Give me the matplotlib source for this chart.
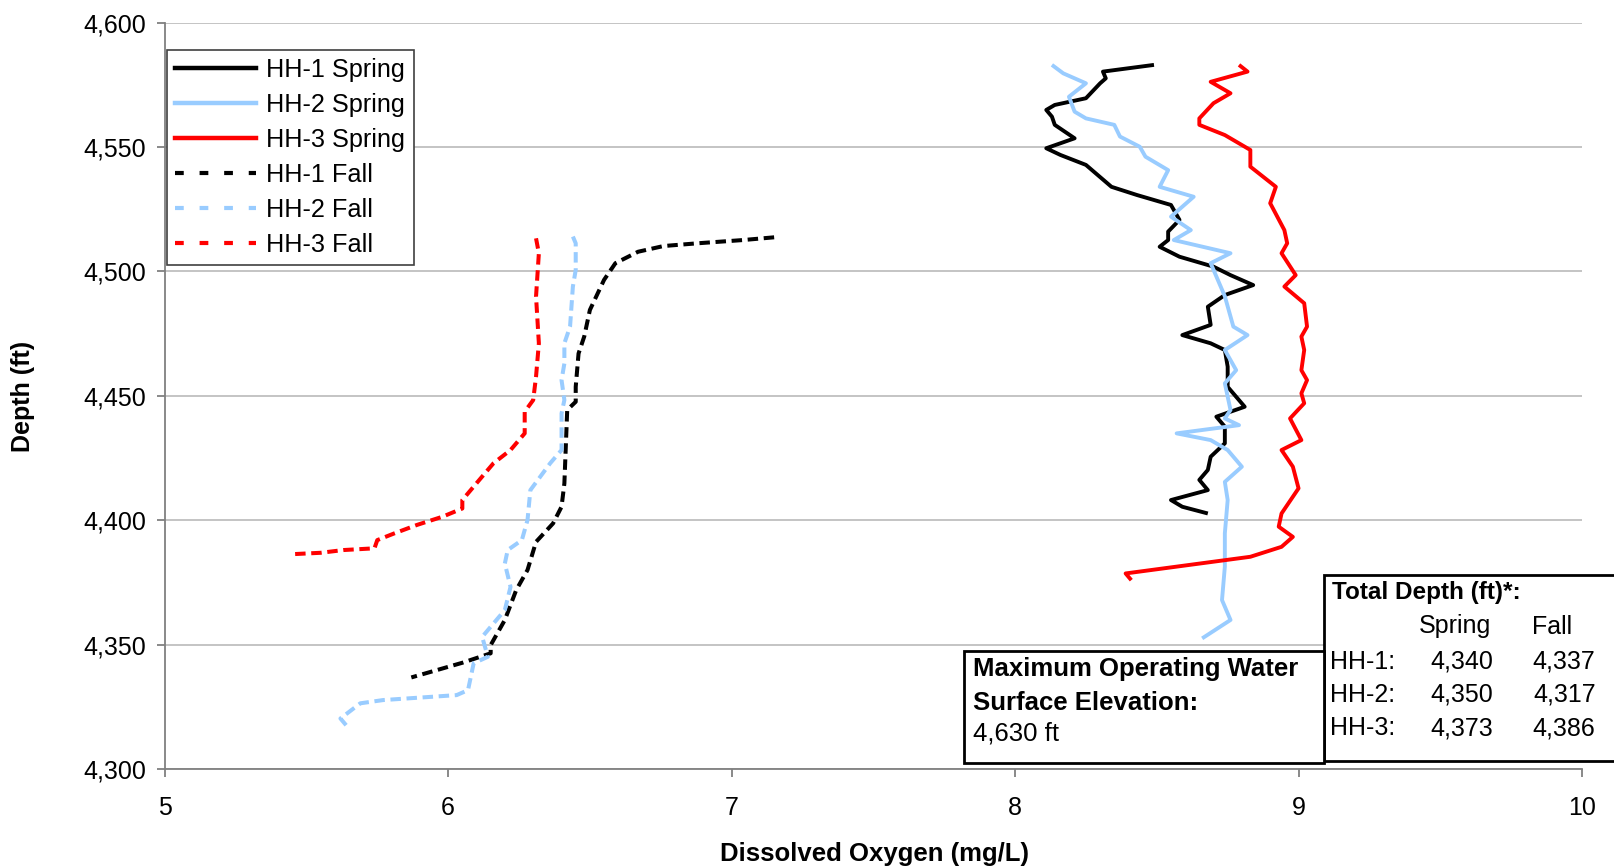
import matplotlib
matplotlib.use("Agg")
import matplotlib.pyplot as plt
from matplotlib.lines import Line2D
from matplotlib.patches import Rectangle

plt.rcParams['font.family'] = ['Liberation Sans', 'DejaVu Sans']

# ---- data ----
hh1_spring_do = [8.49, 8.31, 8.32, 8.30, 8.25, 8.14, 8.11, 8.13, 8.14, 8.21, 8.11, 8.16, 8.25, 8.34, 8.43,
                 8.55, 8.58, 8.54, 8.54, 8.51, 8.58, 8.70, 8.76, 8.84, 8.74, 8.68, 8.69, 8.59, 8.69, 8.74,
                 8.75, 8.75, 8.81, 8.71, 8.74, 8.74, 8.69, 8.68, 8.65, 8.68, 8.55, 8.59, 8.68]
hh1_spring_depth = [4583.0, 4580.3, 4577.6, 4575.6, 4569.6, 4566.9, 4564.9, 4562.2, 4558.9, 4553.5,
                    4549.5, 4546.8, 4542.8, 4534.0, 4530.7, 4526.7, 4520.7, 4516.0, 4512.6, 4509.9,
                    4505.9, 4501.9, 4498.5, 4494.5, 4490.5, 4485.8, 4478.5, 4474.4, 4471.1, 4468.4,
                    4461.7, 4453.6, 4445.6, 4441.6, 4437.6, 4430.9, 4425.5, 4420.2, 4416.2, 4412.1,
                    4408.1, 4405.4, 4402.7]

hh2_spring_do = [8.13, 8.17, 8.25, 8.19, 8.21, 8.25, 8.35, 8.37, 8.44, 8.46, 8.54, 8.51, 8.63, 8.55, 8.62,
                 8.56, 8.76, 8.69, 8.74, 8.77, 8.82, 8.74, 8.78, 8.74, 8.76, 8.74, 8.79, 8.57, 8.69, 8.75,
                 8.80, 8.74, 8.75, 8.74, 8.74, 8.73, 8.76, 8.66]
hh2_spring_depth = [4583.0, 4579.6, 4575.6, 4570.2, 4564.2, 4561.5, 4558.9, 4554.2, 4550.1, 4546.1,
                    4540.7, 4534.0, 4530.0, 4522.0, 4516.6, 4512.6, 4507.3, 4503.3, 4490.0, 4477.8,
                    4474.4, 4468.4, 4460.3, 4455.0, 4444.3, 4440.9, 4438.2, 4434.9, 4432.2, 4428.2,
                    4421.5, 4415.4, 4408.1, 4394.7, 4381.3, 4367.9, 4359.9, 4352.5]

hh3_spring_do = [8.79, 8.82, 8.69, 8.76, 8.70, 8.65, 8.65, 8.74, 8.83, 8.83, 8.92, 8.90, 8.95, 8.96, 8.94,
                 8.99, 8.95, 9.02, 9.03, 9.01, 9.02, 9.01, 9.03, 9.01, 9.02, 8.97, 9.01, 8.94, 8.98, 9.00,
                 8.94, 8.93, 8.98, 8.94, 8.83, 8.39, 8.41]
hh3_spring_depth = [4583.0, 4580.3, 4576.2, 4571.6, 4567.6, 4561.5, 4558.9, 4554.8, 4548.8, 4542.1,
                    4534.0, 4527.4, 4516.6, 4511.3, 4507.3, 4498.5, 4493.9, 4487.2, 4477.8, 4473.8,
                    4468.4, 4460.3, 4456.3, 4451.0, 4447.0, 4440.9, 4432.2, 4428.2, 4421.5, 4412.8,
                    4402.7, 4397.4, 4393.3, 4389.3, 4385.3, 4378.6, 4375.9]

hh1_fall_do = [7.15, 7.04, 6.88, 6.76, 6.67, 6.59, 6.55, 6.50, 6.48, 6.46, 6.45, 6.45, 6.42, 6.41, 6.40,
               6.37, 6.31, 6.28, 6.24, 6.20, 6.15, 6.15, 6.05, 5.87]
hh1_fall_depth = [4513.7, 4512.6, 4511.3, 4510.2, 4507.9, 4503.3, 4496.6, 4484.5, 4473.8, 4467.0,
                  4453.6, 4447.6, 4444.3, 4414.8, 4405.4, 4398.7, 4391.3, 4380.0, 4371.9, 4359.9,
                  4349.8, 4346.5, 4342.7, 4336.8]

hh2_fall_do = [6.44, 6.45, 6.45, 6.44, 6.43, 6.41, 6.41, 6.40, 6.41, 6.40, 6.40, 6.36, 6.29, 6.28, 6.26,
               6.21, 6.20, 6.22, 6.20, 6.12, 6.14, 6.09, 6.07, 6.03, 5.77, 5.69, 5.62, 5.64]
hh2_fall_depth = [4514.0, 4511.3, 4500.6, 4493.9, 4477.8, 4471.1, 4463.0, 4456.3, 4448.3, 4442.9,
                  4428.2, 4422.9, 4412.1, 4400.1, 4392.0, 4388.0, 4382.6, 4373.2, 4363.9, 4353.1,
                  4345.1, 4342.5, 4331.7, 4329.7, 4327.7, 4326.4, 4320.3, 4317.6]

hh3_fall_do = [6.31, 6.32, 6.31, 6.32, 6.31, 6.30, 6.27, 6.27, 6.22, 6.16, 6.11, 6.05, 6.05, 5.98, 5.89,
               5.81, 5.75, 5.74, 5.63, 5.55, 5.46]
hh3_fall_depth = [4513.3, 4507.3, 4489.9, 4471.1, 4457.7, 4448.3, 4443.6, 4434.9, 4428.2, 4422.9,
                  4416.2, 4408.1, 4404.7, 4401.4, 4398.1, 4394.7, 4392.0, 4388.7, 4388.0, 4386.9,
                  4386.4]

series_labels = ['HH-1 Spring', 'HH-2 Spring', 'HH-3 Spring', 'HH-1 Fall', 'HH-2 Fall', 'HH-3 Fall']
x_ticks = [5, 6, 7, 8, 9, 10]
y_ticks = [4300, 4350, 4400, 4450, 4500, 4550, 4600]

td_wells = ['HH-1:', 'HH-2:', 'HH-3:']
td_spring = ['4,340', '4,350', '4,373']
td_fall = ['4,337', '4,317', '4,386']

BLACK = '#000000'
BLUE = '#99CCFF'
RED = '#FF0000'

W, H = 1614, 867
fig = plt.figure(figsize=(W / 100, H / 100), dpi=100)
L, R, T, B = 164.7, 1582, 22.6, 769
ax = fig.add_axes([L / W, 1 - B / H, (R - L) / W, (B - T) / H])

spring = [(hh1_spring_do, hh1_spring_depth, BLACK),
          (hh2_spring_do, hh2_spring_depth, BLUE),
          (hh3_spring_do, hh3_spring_depth, RED)]
fall = [(hh1_fall_do, hh1_fall_depth, BLACK),
        (hh2_fall_do, hh2_fall_depth, BLUE),
        (hh3_fall_do, hh3_fall_depth, RED)]

for xs, ys, c in spring:
    ax.plot(xs, ys, color=c, lw=2.8, solid_joinstyle='round', solid_capstyle='butt', zorder=3)
for xs, ys, c in fall:
    ax.plot(xs, ys, color=c, lw=2.9, dashes=(2.6, 1.4), dash_capstyle='butt', zorder=3)

ax.set_xlim(5, 10)
ax.set_ylim(4300, 4600)
ax.set_xticks(x_ticks)
ax.set_yticks(y_ticks)
ax.set_yticklabels([f'{v:,}' for v in y_ticks])
ax.yaxis.grid(True, color='#BFBFBF', lw=1.3)
ax.set_axisbelow(True)
for s in ['top', 'right']:
    ax.spines[s].set_visible(False)
for s in ['left', 'bottom']:
    ax.spines[s].set_color('#808080')
    ax.spines[s].set_linewidth(1.3)
ax.tick_params(axis='both', direction='out', length=6, width=1.3, color='#808080',
               labelsize=18, labelcolor='black')
ax.tick_params(axis='x', pad=13.5)
ax.tick_params(axis='y', pad=7.5)


def fx(px):
    return px / W


def fy(py):
    return 1 - py / H


# axis titles placed where the reference has them
fig.text(fx(23), fy(396.5), 'Depth (ft)', fontsize=18, fontweight='bold', rotation=90,
         ha='center', va='center')
fig.text(fx(874), fy(854), 'Dissolved Oxygen (mg/L)', fontsize=18.5, fontweight='bold',
         ha='center', va='center')

# legend with its own proxies so the dash pattern matches the key
handles = [Line2D([], [], color=c, lw=3.2) for _, _, c in spring]
handles += [Line2D([], [], color=c, lw=3.0, dashes=(2.1, 3.8), dash_capstyle='butt') for _, _, c in fall]
leg = ax.legend(handles, series_labels, loc='upper left', bbox_to_anchor=(167 / W, 1 - 50 / H),
                bbox_transform=fig.transFigure, borderaxespad=0, fontsize=18.2, handlelength=3.2,
                handletextpad=0.4, labelspacing=0.43, borderpad=0.33, fancybox=False, framealpha=1)
leg.get_frame().set_edgecolor('#404040')
leg.get_frame().set_linewidth(1.2)

# Total depth box
fig.patches.append(Rectangle((fx(1323.5), fy(761)), fx(1620) - fx(1323.5), fy(575) - fy(761),
                             transform=fig.transFigure, facecolor='white', edgecolor='black', lw=2, zorder=5))
fig.text(fx(1331.5), fy(592.5), 'Total Depth (ft)*:', fontsize=17.5, fontweight='bold', va='center', ha='left',
         zorder=6)
fig.text(fx(1455), fy(626.5), 'Spring', fontsize=18, va='center', ha='center', zorder=6)
fig.text(fx(1552), fy(626.5), 'Fall', fontsize=18, va='center', ha='center', zorder=6)
for i, (w, s, f) in enumerate(zip(td_wells, td_spring, td_fall)):
    yy = 661.7 + i * 33.2
    fig.text(fx(1330.5), fy(yy), w, fontsize=18, va='center', ha='left', zorder=6)
    fig.text(fx(1493.5), fy(yy), s, fontsize=18, va='center', ha='right', zorder=6)
    fig.text(fx(1595.5), fy(yy), f, fontsize=18, va='center', ha='right', zorder=6)

# maximum operating water surface box
fig.patches.append(Rectangle((fx(964), fy(762.7)), fx(1324) - fx(964), fy(650.7) - fy(762.7),
                             transform=fig.transFigure, facecolor='white', edgecolor='black', lw=2, zorder=5))
fig.text(fx(973), fy(669), 'Maximum Operating Water', fontsize=18.5, fontweight='bold', va='center', zorder=6)
fig.text(fx(973), fy(702.5), 'Surface Elevation:', fontsize=18.5, fontweight='bold', va='center', zorder=6)
fig.text(fx(973), fy(734), '4,630 ft', fontsize=18.5, va='center', zorder=6)

fig.savefig('out.png', dpi=100)
